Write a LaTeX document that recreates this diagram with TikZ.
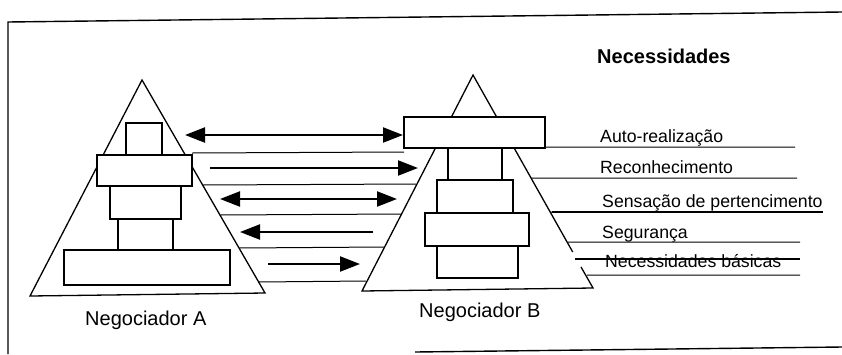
\documentclass[tikz,border=0pt]{standalone}
\usepackage{fontspec}
\setmainfont{Liberation Sans}
\usetikzlibrary{arrows.meta}
\begin{document}
\begin{tikzpicture}[x=1pt,y=-1pt,
  frameline/.style={line width=1.4pt},
  tri/.style={line width=1.3pt, line join=miter},
  box/.style={draw, line width=1.3pt, fill=white, anchor=north west, inner sep=0pt, outer sep=0pt},
  levelline/.style={line width=1pt},
  bigarrow/.style={line width=2.2pt, -{Triangle[length=20pt,width=15pt]}},
  dblarrow/.style={line width=2.2pt, {Triangle[length=20pt,width=15pt]}-{Triangle[length=20pt,width=15pt]}},
  lbl/.style={anchor=base west, inner sep=0pt, font=\fontsize{17.7}{20}\selectfont},
  title/.style={anchor=base west, inner sep=0pt, font=\fontsize{20}{24}\selectfont\bfseries},
  who/.style={anchor=base west, inner sep=0pt, font=\fontsize{20}{24}\selectfont}]
\useasboundingbox (0,0) rectangle (842,354);
\fill[white] (0,0) rectangle (842,354);

% frame
\coordinate (ftl) at (8,22);
\coordinate (ftr) at (842,12);
\coordinate (fbl) at (8,354);
\coordinate (bbl) at (415,352);
\coordinate (bbr) at (842,347);
\draw[frameline] (fbl) -- (ftl) -- (ftr);
\draw[frameline] (bbl) -- (bbr);

% pyramids
\coordinate (Aapex) at (142,80);
\coordinate (Al) at (30,296);
\coordinate (Ar) at (265,293);
\draw[tri] (Al) -- (Aapex) -- (Ar) -- cycle;
\coordinate (Bapex) at (473,75);
\coordinate (Bl) at (362,291);
\coordinate (Br) at (593,288);
\coordinate (Bg1) at (572.7,252);
\coordinate (Bg2) at (581,267);
\draw[tri] (Bg2) -- (Br) -- (Bl) -- (Bapex) -- (Bg1);

% boxes A
\node[box, minimum width=36, minimum height=32] (a1) at (126,123) {};
\node[box, minimum width=95, minimum height=31] (a2) at (97,155) {};
\node[box, minimum width=71, minimum height=33] (a3) at (110,186) {};
\node[box, minimum width=55, minimum height=31] (a4) at (118,219) {};
\node[box, minimum width=166, minimum height=35] (a5) at (64,250) {};
% boxes B
\node[box, minimum width=141, minimum height=31] (b1) at (404,117) {};
\node[box, minimum width=54, minimum height=32] (b2) at (448,148) {};
\node[box, minimum width=76, minimum height=33] (b3) at (437,180) {};
\node[box, minimum width=104, minimum height=33] (b4) at (425,213) {};
\node[box, minimum width=81, minimum height=32] (b5) at (437,246) {};

% level lines
\coordinate (l1a) at (192,153); \coordinate (l1b) at (404,152);
\coordinate (l1c) at (545,147); \coordinate (l1d) at (795,147);
\coordinate (l2a) at (202,185); \coordinate (l2b) at (416,184);
\coordinate (l2c) at (531,178); \coordinate (l2d) at (797,178);
\coordinate (l3a) at (220,215); \coordinate (l3b) at (401,214);
\coordinate (l3c) at (550,212); \coordinate (l3m) at (552,212); \coordinate (l3d) at (823,212);
\coordinate (l4a) at (239,248); \coordinate (l4b) at (384,247);
\coordinate (l4c) at (568,242); \coordinate (l4d) at (800,242);
\coordinate (l5a) at (258,282); \coordinate (l5b) at (366,281);
\coordinate (l5c) at (587,275); \coordinate (l5d) at (800,275);
\coordinate (sa) at (575,259); \coordinate (sb) at (800,259);
\draw[levelline] (l1a) -- (l1b) (l1c) -- (l1d);
\draw[levelline] (l2a) -- (l2b) (l2c) -- (l2d);
\draw[levelline] (l3a) -- (l3b) (l3c) -- (l3m);
\draw[line width=1.8pt] (l3m) -- (l3d);
\draw[levelline] (l4a) -- (l4b) (l4c) -- (l4d);
\draw[levelline] (l5a) -- (l5b) (l5c) -- (l5d);

% arrows
\coordinate (r1a) at (185,135); \coordinate (r1b) at (403,135);
\coordinate (r2a) at (210,168); \coordinate (r2b) at (418,168);
\coordinate (r3a) at (220,199); \coordinate (r3b) at (397,199);
\coordinate (r4a) at (373,232); \coordinate (r4b) at (240,232);
\coordinate (r5a) at (268,264); \coordinate (r5b) at (360,264);
\draw[dblarrow] (r1a) -- (r1b);
\draw[bigarrow] (r2a) -- (r2b);
\draw[dblarrow] (r3a) -- (r3b);
\draw[bigarrow] (r4a) -- (r4b);
\draw[bigarrow] (r5a) -- (r5b);

% texts
\node[title] (tn) at (597,63) {Necessidades};
\node[lbl] (t1) at (600,142) {Auto-realização};
\node[lbl] (t2) at (600,173) {Reconhecimento};
\node[lbl] (t3) at (602,207) {Sensação de pertencimento};
\node[lbl] (t4) at (602,238) {Segurança};
\node[lbl] (t5) at (605,267) {Necessidades básicas};
\draw[line width=1.6pt] (sa) -- (sb);
\node[who] (na) at (85,325) {Negociador A};
\node[who] (nb) at (419,317) {Negociador B};
\end{tikzpicture}
\end{document}
